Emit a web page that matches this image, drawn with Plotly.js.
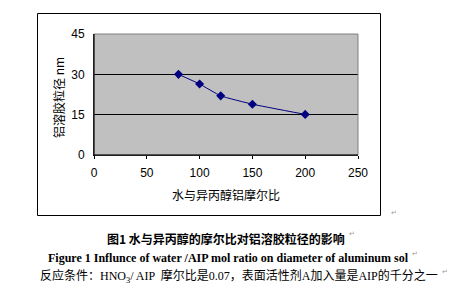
<!DOCTYPE html>
<html><head><meta charset="utf-8">
<script src="https://cdn.plot.ly/plotly-3.0.1.min.js"></script>
<style>html,body{margin:0;padding:0;background:#fff;}#chart{width:462px;height:299px;}</style>
</head><body><div id="chart"></div>
<script>
var ratios = [80, 100, 120, 150, 200];
var diameters = [30, 26.4, 22, 18.9, 15.1];
var xTicks = [0, 50, 100, 150, 200, 250];
var yTicks = [0, 15, 30, 45];
var xTitle = '水与异丙醇铝摩尔比';
var yTitle = '铝溶胶粒径 nm';
var captionCn = '图1 水与异丙醇的摩尔比对铝溶胶粒径的影响';
var captionEn = 'Figure 1 Influnce of water /AIP mol ratio on diameter of aluminum sol';
var conditions = '反应条件：HNO<sub>3</sub>/ AIP  摩尔比是0.07，表面活性剂A加入量是AIP的千分之一';

// pixel helpers (plot area: x 94..358, y 34..155)
function px(x){return (x-94)/264;}
function py(y){return (155-y)/121;}

var cjk = '"Noto Sans CJK SC", "Liberation Sans", sans-serif';
var tickFont = {family:'"Liberation Sans Narrow", "Liberation Sans", sans-serif', size:12, color:'#000'};
var mark = {family:'"DejaVu Sans", sans-serif', size:7, color:'#999'};

var trace = {
  x: ratios, y: diameters, type:'scatter', mode:'lines+markers',
  line:{color:'#000080', width:1, shape:'spline', smoothing:0.4},
  marker:{symbol:'diamond', size:7, color:'#000080'},
  hoverinfo:'skip'
};

var layout = {
  width:462, height:299,
  margin:{l:94, r:104, t:34, b:144, pad:0},
  paper_bgcolor:'#ffffff', plot_bgcolor:'#c0c0c0',
  showlegend:false,
  xaxis:{range:[0,250], tickvals:xTicks, ticktext:xTicks.map(String), showgrid:false, zeroline:false,
    showline:true, linecolor:'#000', linewidth:1, ticks:'outside', ticklen:3, tickcolor:'#000',
    ticklabelstandoff:4, tickfont:tickFont, fixedrange:true},
  yaxis:{range:[0,45], tickvals:yTicks, ticktext:yTicks.map(String), showgrid:true, gridcolor:'#000', gridwidth:1,
    zeroline:false, showline:true, linecolor:'#000', linewidth:1, ticks:'outside', ticklen:6,
    tickcolor:'rgba(0,0,0,0)', tickfont:tickFont, fixedrange:true},
  shapes:[
    {type:'rect', xref:'paper', yref:'paper', x0:0, x1:1, y0:0, y1:1, line:{color:'#808080', width:1}, layer:'above'},
    {type:'line', xref:'paper', yref:'paper', x0:0, x1:0, y0:0, y1:1, line:{color:'#000', width:1}, layer:'above'},
    {type:'line', xref:'paper', yref:'paper', x0:0, x1:1, y0:0, y1:0, line:{color:'#000', width:1}, layer:'above'},
    {type:'rect', xref:'paper', yref:'paper', x0:px(37.5), x1:px(380.5), y0:py(215.5), y1:py(13.5), line:{color:'#000', width:1}}
  ],
  annotations:[
    {text:xTitle, xref:'paper', yref:'paper', x:px(226), y:py(194), showarrow:false, xanchor:'center', yanchor:'middle',
      font:{family:cjk, size:12, color:'#000'}},
    {text:yTitle, xref:'paper', yref:'paper', x:px(58), y:py(98), showarrow:false, xanchor:'center', yanchor:'middle', textangle:-90,
      font:{family:cjk, size:12, color:'#000'}},
    {text:'↵', xref:'paper', yref:'paper', x:px(389), y:py(219), showarrow:false, xanchor:'left', font:mark},
    {text:'<b>'+captionCn+'</b>', xref:'paper', yref:'paper', x:px(226), y:py(238), showarrow:false, xanchor:'center', yanchor:'middle',
      font:{family:cjk, size:12, color:'#000'}},
    {text:'↵', xref:'paper', yref:'paper', x:px(347), y:py(240), showarrow:false, xanchor:'left', font:mark},
    {text:'<b>'+captionEn+'</b>', xref:'paper', yref:'paper', x:px(46), y:py(258), showarrow:false, xanchor:'left', yanchor:'middle',
      font:{family:'"Liberation Serif", serif', size:12, color:'#000'}},
    {text:'↵', xref:'paper', yref:'paper', x:px(410), y:py(260), showarrow:false, xanchor:'left', font:mark},
    {text:conditions, xref:'paper', yref:'paper', x:px(38), y:py(276), showarrow:false, xanchor:'left', yanchor:'middle',
      font:{family:'"Liberation Serif", "Noto Sans CJK SC", serif', size:12, color:'#000'}},
    {text:'↵', xref:'paper', yref:'paper', x:px(440), y:py(278), showarrow:false, xanchor:'left', font:mark}
  ]
};
Plotly.newPlot('chart', [trace], layout, {staticPlot:true, displayModeBar:false});
</script></body></html>
